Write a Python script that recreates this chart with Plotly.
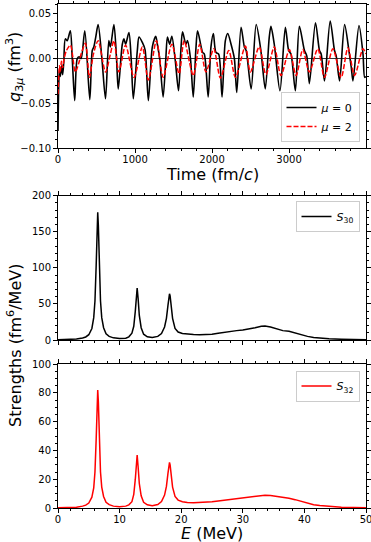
import plotly.graph_objects as go

# q_{3mu}(t) at extrema / shoulders
time_mu0 = [0, 8, 18, 30, 45, 60, 75, 95, 120, 160, 185, 217, 250, 275, 300, 348, 413, 445, 465, 490,
            521, 570, 617, 660, 680, 726, 760, 782, 835, 856, 878, 921, 950, 978, 1030, 1052, 1095,
            1130, 1173, 1225, 1269, 1290, 1320, 1365, 1400, 1421, 1450, 1478, 1520, 1565, 1595, 1617,
            1660, 1682, 1720, 1756, 1790, 1812, 1877, 1900, 1950, 1986, 2017, 2050, 2086, 2130, 2173,
            2204, 2247, 2290, 2321, 2377, 2420, 2443, 2508, 2573, 2634, 2691, 2743, 2765, 2808, 2882,
            2952, 2995, 3025, 3082, 3134, 3200, 3230, 3264, 3343, 3395, 3417, 3460, 3534, 3590, 3612,
            3656, 3721, 3777, 3808, 3830, 3908, 3960, 3982, 4000]
q_mu0 = [-0.081, -0.036, -0.012, -0.020, -0.008, -0.018, -0.004, 0.022, 0.020, 0.031, 0.000, -0.047,
         0.000, 0.002, 0.000, 0.031, -0.046, 0.009, 0.013, 0.024, 0.038, 0.000, -0.045, 0.020, 0.013,
         0.038, 0.000, -0.034, 0.016, 0.022, 0.016, 0.029, 0.000, -0.045, 0.009, 0.024, 0.018, 0.010,
         -0.047, 0.013, 0.025, 0.016, 0.000, -0.043, 0.000, 0.024, 0.016, 0.025, 0.000, -0.036, 0.009,
         0.030, 0.016, 0.020, 0.000, -0.043, 0.010, 0.031, 0.007, 0.005, -0.043, 0.013, 0.028, 0.007,
         0.005, -0.043, 0.020, 0.028, 0.016, 0.000, -0.038, 0.035, 0.013, 0.009, -0.034, 0.038, 0.009,
         -0.034, 0.024, 0.036, 0.016, -0.036, 0.035, 0.009, 0.005, -0.036, 0.036, 0.009, 0.003, -0.028,
         0.040, 0.009, 0.005, -0.025, 0.042, 0.009, 0.003, -0.025, 0.038, 0.009, -0.010, -0.025, 0.037,
         0.005, -0.021, -0.020]

time_mu2 = [0, 10, 20, 30, 45, 60, 80, 110, 161, 225, 270, 300, 356, 408, 460, 521, 617, 680, 726, 791,
            878, 987, 1095, 1173, 1278, 1365, 1478, 1573, 1638, 1756, 1840, 1921, 2022, 2109, 2217,
            2304, 2433, 2498, 2612, 2700, 2808, 2895, 3004, 3091, 3178, 3264, 3373, 3460, 3569, 3677,
            3764, 3851, 3960, 4000]
q_mu2 = [-0.040, -0.020, -0.008, -0.015, -0.003, -0.010, 0.000, 0.009, 0.015, -0.015, -0.005, 0.005,
         0.017, -0.021, 0.005, 0.020, -0.015, 0.005, 0.020, -0.015, 0.015, -0.021, 0.013, -0.024, 0.020,
         -0.021, 0.016, -0.017, 0.020, -0.019, 0.016, -0.015, 0.011, -0.022, 0.009, -0.021, 0.014,
         -0.015, 0.013, -0.018, 0.013, -0.019, 0.010, -0.019, 0.010, -0.015, 0.011, -0.021, 0.011,
         -0.021, 0.012, -0.019, 0.011, 0.005]

# strength functions
energy = [0, 1, 2, 3, 4, 4.5, 5, 5.5, 5.8, 6.0, 6.2, 6.35, 6.45, 6.55, 6.7, 6.9, 7.1, 7.4, 7.8, 8.3, 9,
          10, 11, 11.5, 12.0, 12.3, 12.55, 12.7, 12.85, 13.0, 13.2, 13.5, 13.9, 14.5, 15.3, 16.2, 16.8,
          17.3, 17.6, 17.85, 18.0, 18.1, 18.2, 18.35, 18.6, 19.0, 19.5, 20.2, 21, 22, 23, 24, 25, 26,
          27, 28, 29, 30, 31, 32, 33, 33.6, 34.5, 35.5, 36.5, 37.5, 38.5, 39.5, 40.5, 41.5, 42.5, 44,
          46, 48, 50]
s30 = [0.3, 0.4, 0.7, 1.3, 2.8, 4.2, 7.3, 16, 31, 54, 104, 159, 177, 159, 104, 54, 31, 17, 8.5, 5, 3,
       2, 2.5, 4.4, 9.5, 19, 40, 58, 72, 58, 34, 17, 8, 4.5, 3.5, 5, 9, 18, 30, 48, 60, 64, 61, 50, 30,
       16, 11, 9, 8, 7.5, 7.3, 7.5, 8, 9.5, 11, 12.5, 13, 14, 15, 17, 19, 19.4, 18, 15, 13, 12, 9.5,
       7, 5, 3.6, 2.6, 1.6, 1, 0.6, 0.4]
s32 = [0.2, 0.25, 0.35, 0.6, 1.3, 2, 3.4, 7.5, 14, 25, 48, 74, 82, 74, 48, 25, 14.5, 8, 4, 2.3, 1.3,
       0.9, 1.3, 2.2, 4.4, 9.5, 20, 29, 36.8, 29, 17, 8.5, 4, 2.2, 1.6, 2.4, 4.5, 9, 15, 24, 30, 31.7,
       30, 24, 14.5, 8, 5.5, 4.4, 3.8, 3.6, 3.7, 4, 4.3, 4.8, 5.4, 6, 6.6, 7.2, 7.8, 8.4, 8.8, 8.9,
       8.7, 8.2, 7.5, 6.7, 5.8, 4.5, 3.2, 2.3, 1.7, 1.1, 0.6, 0.35, 0.2]

W, H = 371, 542
FONT = "DejaVu Sans"


def px(x):
    return x / W


def py(y):
    return 1 - y / H


fig = go.Figure()
fig.add_trace(go.Scatter(x=time_mu0, y=q_mu0, mode="lines", name="<i>μ</i> = 0",
                         line=dict(color="black", width=1.6, shape="spline", smoothing=0.8),
                         xaxis="x", yaxis="y", legend="legend"))
fig.add_trace(go.Scatter(x=time_mu2, y=q_mu2, mode="lines", name="<i>μ</i> = 2",
                         line=dict(color="red", width=1.5, dash="5px,2px", shape="spline", smoothing=0.8),
                         xaxis="x", yaxis="y", legend="legend"))
fig.add_trace(go.Scatter(x=energy, y=s30, mode="lines", name="<i>S</i><sub>30</sub>",
                         line=dict(color="black", width=1.5),
                         xaxis="x2", yaxis="y2", legend="legend2"))
fig.add_trace(go.Scatter(x=energy, y=s32, mode="lines", name="<i>S</i><sub>32</sub>",
                         line=dict(color="red", width=1.5),
                         xaxis="x3", yaxis="y3", legend="legend3"))


def ax(domain, rng, dtick, minor, anchor, labels=True, fmt=None, standoff=0):
    d = dict(domain=domain, range=rng, dtick=dtick, tick0=0, anchor=anchor, automargin=False,
             showline=True, linecolor="black", linewidth=1, mirror="allticks",
             ticks="outside", ticklen=4, tickwidth=1, tickcolor="black",
             minor=dict(ticks="outside", ticklen=2, dtick=minor, tick0=0, tickcolor="black"),
             showgrid=False, zeroline=False, showticklabels=labels,
             ticklabeloverflow="allow", ticklabelstandoff=standoff,
             tickfont=dict(family=FONT, size=10, color="black"))
    if fmt:
        d["tickformat"] = fmt
    return d


def label(text, x, y, angle=0):
    return dict(text=text, x=px(x), y=py(y), xref="paper", yref="paper",
                xanchor="center", yanchor="middle", textangle=angle, showarrow=False,
                font=dict(family=FONT, size=16, color="black"))


xd = [px(58), px(366)]
leg = dict(bgcolor="rgba(255,255,255,0.8)", bordercolor="#cccccc", borderwidth=1,
           font=dict(family=FONT, size=11, color="black"), itemwidth=30,
           xanchor="right", x=px(359.5), tracegroupgap=0)

fig.update_layout(
    width=W, height=H, margin=dict(l=0, r=0, t=0, b=0, autoexpand=False),
    paper_bgcolor="white", plot_bgcolor="white",
    font=dict(family=FONT, color="black"),
    xaxis=ax(xd, [0, 3999], 1000, 200, "y", standoff=-2),
    yaxis=dict(ax([py(148), py(4)], [-0.1, 0.061], 0.05, 0.01, "x", fmt=".2f"),
               zeroline=True, zerolinecolor="#333333", zerolinewidth=1),
    xaxis2=ax(xd, [0, 50], 10, 2, "y2", labels=False),
    yaxis2=ax([py(340), py(195.7)], [0, 200], 50, 10, "x2"),
    xaxis3=ax(xd, [0, 50], 10, 2, "y3", standoff=-2),
    yaxis3=ax([py(508), py(364)], [0, 100], 20, 5, "x3"),
    legend=dict(leg, yanchor="bottom", y=py(142)),
    legend2=dict(leg, yanchor="top", y=py(201)),
    legend3=dict(leg, yanchor="top", y=py(370.5)),
    annotations=[
        label("<i>q</i><sub>3<i>μ</i></sub> (fm<sup>3</sup>)", 14, 67, -90),
        label("Time (fm/<i>c</i>)", 212, 175),
        label("Strengths (fm<sup>6</sup>/MeV)", 14, 346, -90),
        label("<i>E</i> (MeV)", 212, 533),
    ],
)

# drop the page's default 8px body margin so the figure sits in the window corner
fig.write_html("out.html", config={"displayModeBar": False},
               post_script="document.body.style.margin = '0';")
